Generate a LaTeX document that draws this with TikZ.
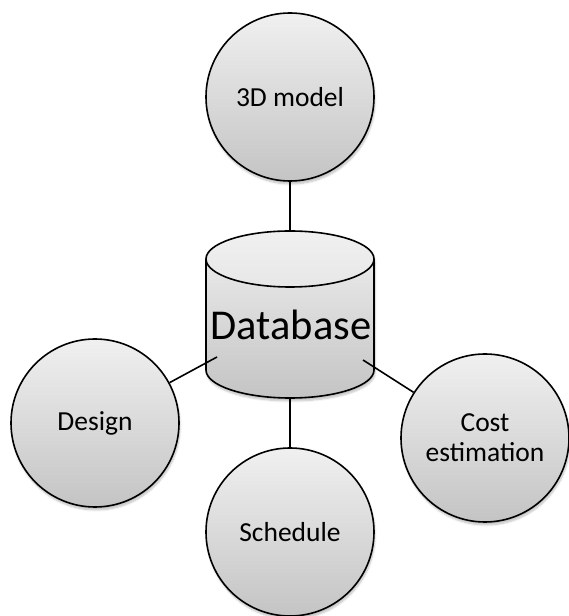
\documentclass[tikz,border=0pt]{standalone}
\usepackage{fontspec}
\setmainfont{Carlito}
\usetikzlibrary{shadows.blur}

\definecolor{shadetop}{HTML}{F0F0F0}
\definecolor{shadebot}{HTML}{C4C4C4}

\tikzset{
  bubble/.style={circle, draw=black, line width=1.6pt, minimum size=168pt, inner sep=0pt,
    top color=shadetop, bottom color=shadebot, align=center,
    font=\fontsize{27.5}{30}\selectfont,
    blur shadow={shadow xshift=1pt, shadow yshift=-3pt, shadow blur steps=6, shadow opacity=25}},
  link/.style={draw=black, line width=1.6pt},
  dbfill/.style={top color=shadetop, bottom color=shadebot},
  dbline/.style={draw=black, line width=1.6pt}
}

\begin{document}
\begin{tikzpicture}[x=1pt, y=1pt]
  \useasboundingbox (0,0) rectangle (568,616);

  % surrounding bubbles
  \node[bubble] (model)  at (290,519) {3D model};
  \node[bubble] (design) at (95,193)  {Design};
  \node[bubble] (cost)   at (485,178) {Cost\\estimation};
  \node[bubble] (sched)  at (290,84)  {Schedule};

  % database cylinder: body, then the top cap
  \fill[dbfill, blur shadow={shadow xshift=1pt, shadow yshift=-3pt, shadow blur steps=6, shadow opacity=25}]
    (206pt,357pt) -- (206pt,246pt)
    arc[start angle=180, end angle=360, x radius=84pt, y radius=28pt]
    -- (374pt,357pt)
    arc[start angle=0, end angle=180, x radius=84pt, y radius=28pt] -- cycle;
  \shade[top color=shadetop, bottom color=shadetop!80!shadebot]
    (290pt,357pt) ellipse[x radius=84pt, y radius=28pt];
  \draw[dbline] (206pt,357pt) -- (206pt,246pt)
    arc[start angle=180, end angle=360, x radius=84pt, y radius=28pt]
    -- (374pt,357pt);
  \draw[dbline] (290pt,357pt) ellipse[x radius=84pt, y radius=28pt];
  \node[font=\fontsize{42.5}{46}\selectfont, anchor=base, inner sep=0pt] (db) at (291,276) {Database};

  % connection points on the cylinder
  \coordinate (dbtop)   at (290,385);
  \coordinate (dbbot)   at (290,218);
  \coordinate (dbleft)  at (217,259);
  \coordinate (dbright) at (363,256);

  % connectors
  \draw[link] (model) -- (dbtop);
  \draw[link] (dbbot) -- (sched);
  \draw[link] (dbleft) -- (design);
  \draw[link] (dbright) -- (cost);
\end{tikzpicture}
\end{document}
